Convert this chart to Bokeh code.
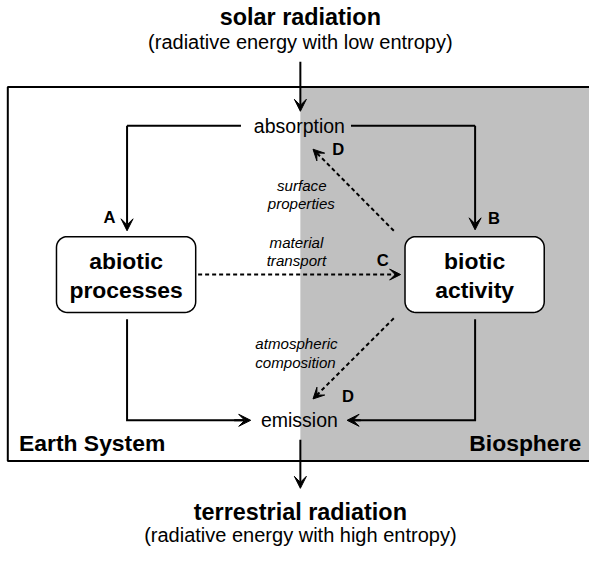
import numpy as np
from bokeh.plotting import figure
from bokeh.models import Range1d, Arrow, VeeHead
from bokeh.core.properties import value
from bokeh.embed import file_html
from bokeh.resources import INLINE

# ---- text content ----
head_titles = ["solar radiation", "terrestrial radiation"]
head_subtitles = ["(radiative energy with low entropy)", "(radiative energy with high entropy)"]
flow_labels = ["absorption", "emission"]
box_labels_top = ["abiotic", "biotic"]
box_labels_bottom = ["processes", "activity"]
letters = ["A", "B", "C", "D", "D"]
italic_labels = ["surface", "properties", "material", "transport", "atmospheric", "composition"]
region_labels = ["Earth System", "Biosphere"]

FONT = "Liberation Sans"
REF_W, REF_H = 605, 567
W, H = 589, 551
S = W / REF_W  # scale of the reference frame into the figure

p = figure(width=W, height=H, x_range=Range1d(0, REF_W), y_range=Range1d(REF_H, 0),
           output_backend="svg", toolbar_location=None, min_border=0)
p.axis.visible = False
p.grid.visible = False
p.outline_line_color = None
p.background_fill_color = "white"
p.border_fill_color = "white"

def fs(v):
    return f"{v * S:.1f}px"

# regions
p.quad(left=[308], right=[615], top=[89], bottom=[474], fill_color="#c0c0c0", line_color=None)
p.quad(left=[7.5], right=[615], top=[89], bottom=[474], fill_color=None, line_color="black", line_width=2)

# rounded boxes
def rounded(x0, x1, y0, y1, r=11, n=10):
    xs, ys = [], []
    corners = [(x1 - r, y0 + r, -90, 0), (x1 - r, y1 - r, 0, 90), (x0 + r, y1 - r, 90, 180), (x0 + r, y0 + r, 180, 270)]
    for cx, cy, a0, a1 in corners:
        t = np.radians(np.linspace(a0, a1, n))
        xs.extend(cx + r * np.cos(t))
        ys.extend(cy + r * np.sin(t))
    return xs, ys

for (x0, x1) in [(57.5, 200.5), (415.5, 558.5)]:
    xs, ys = rounded(x0, x1, 243, 321)
    p.patch(xs, ys, fill_color="white", line_color="black", line_width=1.5)

# connector lines
LW = 2
p.line([247, 130], [129, 129], line_color="black", line_width=LW)
p.line([360, 487.5], [129, 129], line_color="black", line_width=LW)
p.line([130, 130, 250], [328, 432, 432], line_color="black", line_width=LW, line_join="miter")
p.line([487.5, 487.5, 362], [328, 432, 432], line_color="black", line_width=LW, line_join="miter")

def arrow(x0, y0, x1, y1, dash="solid", size=12):
    p.add_layout(Arrow(x_start=x0, y_start=y0, x_end=x1, y_end=y1, line_width=LW, line_color="black",
                       line_dash=dash,
                       end=VeeHead(size=size, fill_color="black", line_color="black", line_width=1)))

arrow(308, 63, 308, 114)
arrow(130, 129, 130, 237)
arrow(487.5, 129, 487.5, 236)
arrow(240, 432, 257, 432)
arrow(370, 432, 356, 432)
arrow(308, 452, 308, 502)
arrow(203, 282, 411, 282, dash="4 3", size=11)
arrow(404, 237, 321, 153, dash="4 3", size=11)
arrow(404, 327, 321, 410, dash="4 3", size=11)

def txt(x, y, t, size, style="normal", align="center"):
    p.text(x=x, y=y, text=t, text_font=value(FONT), text_font_size=fs(size), text_font_style=style,
           text_align=align, text_baseline="middle", text_color="black")

txt([308, 308], [17, 526], head_titles, 24, "bold")
txt([308, 308], [43, 550], head_subtitles, 20.5)
txt([307, 307], [129, 432], flow_labels, 20)
txt([129, 487], [268, 268], box_labels_top, 23.5, "bold")
txt([129, 487], [298, 298], box_labels_bottom, 23.5, "bold")
txt([112, 507, 392.5, 347, 357], [223, 224, 268, 153, 407], letters, 17, "bold")
txt([309.5, 309, 304, 304, 304, 303], [190, 209, 249, 268, 353, 372], italic_labels, 15.5, "italic")
txt([19], [455], region_labels[:1], 23.5, "bold", "left")
txt([596.5], [455], region_labels[1:], 23.5, "bold", "right")

open("out.html", "w").write(file_html(p, INLINE))
